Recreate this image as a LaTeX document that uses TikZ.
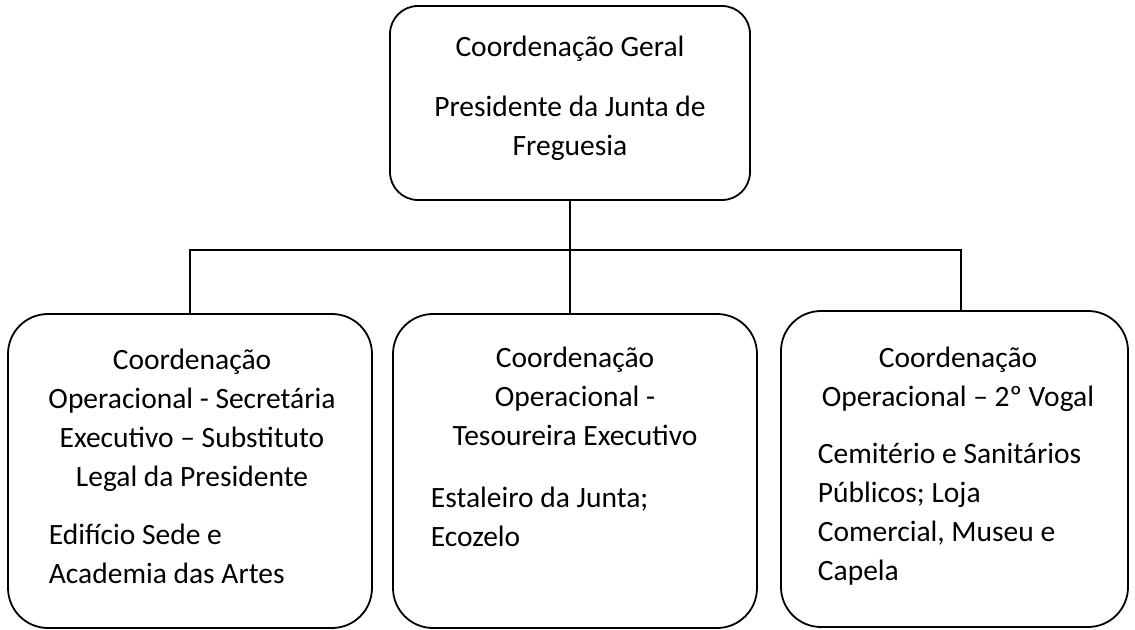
\documentclass[tikz,border=0pt]{standalone}
\usepackage{fontspec}
\setmainfont{Carlito}
\begin{document}
\begin{tikzpicture}[x=0.5pt,y=-0.5pt,line width=0.9pt,
    orgbox/.style={draw,rounded corners=20pt,inner sep=0pt,minimum width=182pt,minimum height=157pt},
    headtext/.style={align=center,inner sep=0pt,anchor=north,font=\fontsize{14.75}{19.5}\selectfont},
    bodytext/.style={align=left,inner sep=0pt,anchor=north west,font=\fontsize{14.75}{19.5}\selectfont}]
  \useasboundingbox (0,0) rectangle (1135,630);
  % boxes
  \node[orgbox,rounded corners=14pt,minimum width=180pt,minimum height=97pt] (top) at (570,103) {};
  \node[orgbox] (left) at (190,471) {};
  \node[orgbox] (mid) at (575,471) {};
  \node[orgbox,minimum width=173.5pt,minimum height=158pt] (right) at (954.5,469) {};
  % texts
  \node[headtext] (tophead) at (570,35) {Coordenação Geral};
  \node[headtext] (topbody) at (570,95) {Presidente da Junta de\\Freguesia};
  \node[headtext] (lefthead) at (192,348) {Coordenação\\Operacional - Secretária\\Executivo -- Substituto\\Legal da Presidente};
  \node[bodytext] (leftbody) at (48,523) {Edifício Sede e\\Academia das Artes};
  \node[headtext] (midhead) at (575,346) {Coordenação\\Operacional -\\Tesoureira Executivo};
  \node[bodytext] (midbody) at (430,486) {Estaleiro da Junta;\\Ecozelo};
  \node[headtext] (righthead) at (958,346) {Coordenação\\Operacional -- 2º Vogal};
  \node[bodytext] (rightbody) at (817,442) {Cemitério e Sanitários\\Públicos; Loja\\Comercial, Museu e\\Capela};
  % connectors
  \coordinate (bus) at (570,250);
  \coordinate (rdrop) at (961,250);
  \draw (top.south) -- (top.south |- mid.north);
  \draw (left.north) |- (rdrop) -- (rdrop |- right.north);
\end{tikzpicture}
\end{document}
